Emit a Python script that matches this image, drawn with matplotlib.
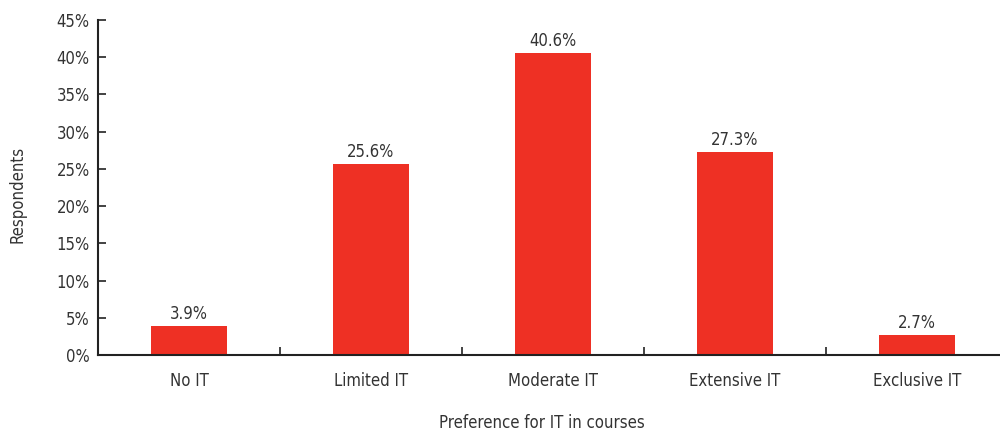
import matplotlib
matplotlib.use("Agg")
import matplotlib.pyplot as plt

categories = ["No IT", "Limited IT", "Moderate IT", "Extensive IT", "Exclusive IT"]
values = [3.9, 25.6, 40.6, 27.3, 2.7]
yticks = [0, 5, 10, 15, 20, 25, 30, 35, 40, 45]

plt.rcParams['font.family'] = ['DejaVu Sans']
plt.rcParams['font.stretch'] = 'condensed'

text_color = "#333333"
bar_color = "#EE3024"
fs = 12

fig = plt.figure(figsize=(10, 4.33), dpi=100)
ax = fig.add_axes([0.098, 0.180, 0.902, 0.774])

x = list(range(len(categories)))
ax.bar(x, values, width=0.42, color=bar_color, zorder=2)
for xi, v in zip(x, values):
    ax.text(xi, v + 0.4, f"{v:.1f}%", ha="center", va="bottom", fontsize=fs, color=text_color)

ax.set_xlim(-0.5, 4.456)
ax.set_ylim(0, 45)
ax.set_yticks(yticks)
ax.set_yticklabels([f"{t}%" for t in yticks], fontsize=fs, color=text_color)

ax.set_xticks(x)
ax.set_xticklabels(categories, fontsize=fs, color=text_color)
ax.tick_params(axis="x", which="major", length=0, pad=12)
ax.set_xticks([0.5, 1.5, 2.5, 3.5], minor=True)
ax.tick_params(axis="x", which="minor", direction="in", length=6, width=1.2, color="#222222")
ax.tick_params(axis="y", direction="in", length=6, width=1.2, color="#222222", pad=6)

for s in ["top", "right"]:
    ax.spines[s].set_visible(False)
for s in ["left", "bottom"]:
    ax.spines[s].set_linewidth(1.5)
    ax.spines[s].set_color("#222222")

ax.set_ylabel("Respondents", fontsize=fs, color=text_color, va="center")
ax.yaxis.set_label_coords(-0.0887, 0.478)
ax.set_xlabel("Preference for IT in courses", fontsize=fs, color=text_color, va="center")
ax.xaxis.set_label_coords(0.492, -0.203)

fig.savefig("out.png", dpi=100)
